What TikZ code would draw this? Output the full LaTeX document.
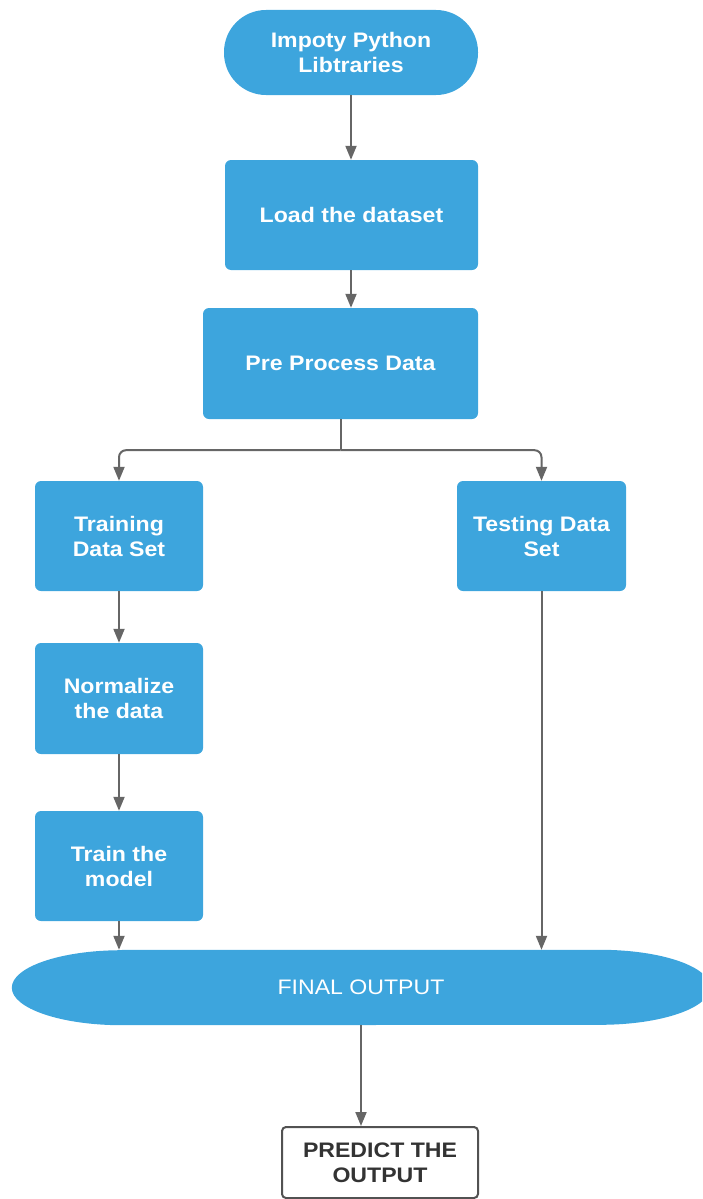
\documentclass[tikz,border=0pt]{standalone}
\usepackage{fontspec}
\setmainfont[FakeStretch=1.1]{Liberation Sans}
\usetikzlibrary{arrows.meta,calc}
\definecolor{boxblue}{RGB}{61,165,221}
\definecolor{arrowgray}{RGB}{102,102,102}
\definecolor{darktext}{RGB}{51,51,51}
\begin{document}
\begin{tikzpicture}[x=1pt,y=1pt,
  stepbox/.style={rectangle, rounded corners=6pt, fill=boxblue, text=white,
    font=\fontsize{21}{25}\selectfont\bfseries, align=center, inner sep=0pt},
  conn/.style={draw=arrowgray, line width=2pt, -{Triangle[length=14pt,width=11pt]}},
  plainline/.style={draw=arrowgray, line width=2pt}
]
\useasboundingbox (0,0) rectangle (702,-1199);
\clip (0,0) rectangle (702,-1199);

\node[stepbox, rounded corners=42pt, minimum width=254pt, minimum height=85pt] (start) at (351,-52.5) {Impoty Python\\Libtraries};
\node[stepbox, minimum width=253pt, minimum height=110pt] (load) at (351.5,-215) {Load the dataset};
\node[stepbox, minimum width=275pt, minimum height=111pt] (pre) at (340.5,-363.5) {Pre Process Data};
\node[stepbox, minimum width=168pt, minimum height=110pt] (train) at (119,-536) {Training\\Data Set};
\node[stepbox, minimum width=169pt, minimum height=110pt] (test) at (541.5,-536) {Testing Data\\Set};
\node[stepbox, minimum width=168pt, minimum height=111pt] (norm) at (119,-698.5) {Normalize\\the data};
\node[stepbox, minimum width=168pt, minimum height=110pt] (model) at (119,-866) {Train the\\model};

% final output shape (elliptical ends)
\node[rectangle, minimum width=698pt, minimum height=75pt, inner sep=0pt] (fin) at (361,-987.5) {};
\fill[boxblue] ($(fin.north west)+(110,0)$) -- ($(fin.north east)+(-110,0)$)
  arc[start angle=90, end angle=-90, x radius=110, y radius=37.5]
  -- ($(fin.south west)+(110,0)$)
  arc[start angle=270, end angle=90, x radius=110, y radius=37.5] -- cycle;
\node[text=white, font=\fontsize{21}{25}\selectfont] at (fin.center) {FINAL OUTPUT};

\node[rectangle, rounded corners=4pt, draw=darktext!85, line width=2pt, fill=white,
  minimum width=196pt, minimum height=71pt, inner sep=0pt, align=center,
  text=darktext, font=\fontsize{21}{25}\selectfont\bfseries] (pred) at (380,-1162.5) {PREDICT THE\\OUTPUT};

% connectors
\draw[conn] (start.south) -- (start.south |- load.north);
\draw[conn] (load.south -| start.south) -- (start.south |- pre.north);
\coordinate (split) at ($(pre.south)+(0,-31)$);
\draw[plainline] (pre.south) -- (split);
\draw[conn, rounded corners=7pt] (split) -| (train.north);
\draw[conn, rounded corners=7pt] (split) -| (test.north);
\draw[conn] (train.south) -- (norm.north);
\draw[conn] (norm.south) -- (model.north);
\draw[conn] (model.south) -- (model.south |- fin.north);
\draw[conn] (test.south) -- (test.south |- fin.north);
\draw[conn] (fin.south) -- (fin.south |- pred.north);
\end{tikzpicture}
\end{document}
